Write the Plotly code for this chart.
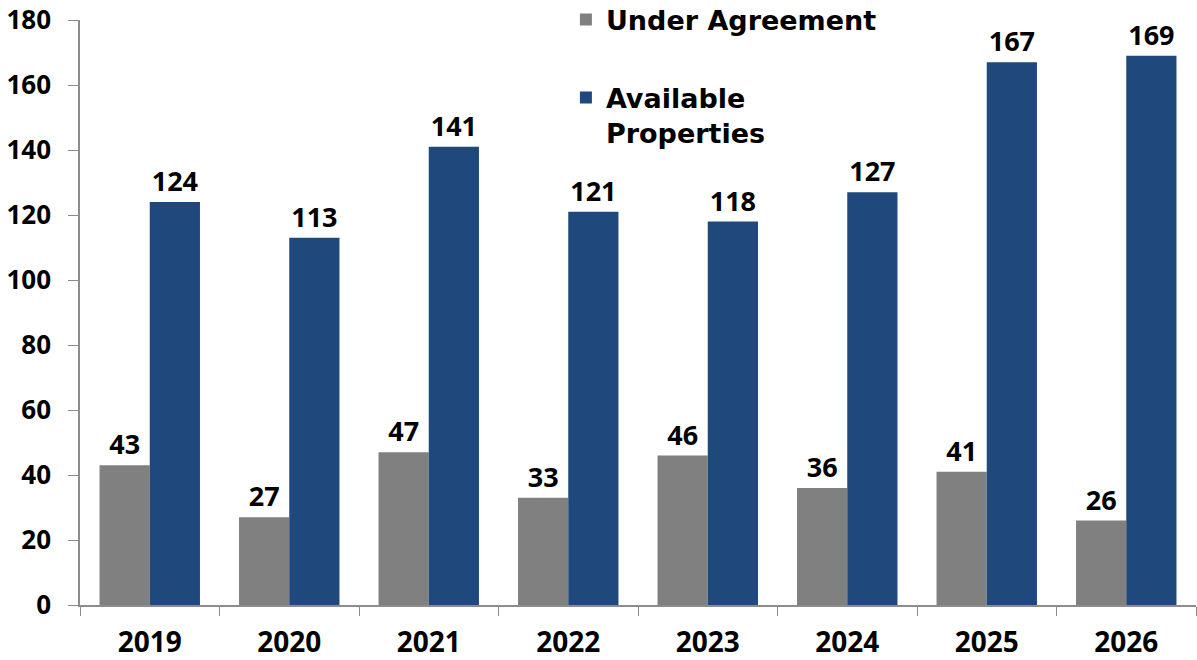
import plotly.graph_objects as go

years = ["2019", "2020", "2021", "2022", "2023", "2024", "2025", "2026"]
under_agreement = [43, 27, 47, 33, 46, 36, 41, 26]
available = [124, 113, 141, 121, 118, 127, 167, 169]

NUMFONT = "Open Sans"
LEGFONT = "DejaVu Sans"
fig = go.Figure()
fig.add_trace(go.Bar(
    x=years, y=under_agreement, name="Under Agreement",
    marker=dict(color="#808080", line=dict(width=0)),
    text=under_agreement, textposition="outside",
    textfont=dict(family=NUMFONT, size=27, color="black", weight="bold"),
    cliponaxis=False, legendgroup="a",
))
fig.add_trace(go.Bar(
    x=years, y=available, name="Available<br>Properties",
    marker=dict(color="#1F497D", line=dict(width=0)),
    text=available, textposition="outside",
    textfont=dict(family=NUMFONT, size=27, color="black", weight="bold"),
    cliponaxis=False, legendgroup="b",
))

fig.update_layout(
    width=1197, height=660,
    margin=dict(l=80, r=1, t=20, b=55, autoexpand=False),
    paper_bgcolor="white", plot_bgcolor="white",
    barmode="group", bargap=0.28, bargroupgap=0,
    font=dict(family=NUMFONT, size=27, color="black"),
    legend=dict(
        x=0.4354, y=1.042, xanchor="left", yanchor="top",
        bgcolor="rgba(0,0,0,0)", borderwidth=0, valign="top",
        font=dict(family=LEGFONT, size=27, color="black", weight="bold"),
        tracegroupgap=40, traceorder="grouped",
    ),
    xaxis=dict(
        showline=True, linecolor="#8c8c8c", linewidth=1.5,
        ticks="outside", tickson="boundaries", ticklen=9, tickcolor="#8c8c8c",
        tickfont=dict(family=NUMFONT, size=28, color="black", weight="bold"),
        ticklabelstandoff=12, automargin=False, ticklabeloverflow="allow",
        showgrid=False,
    ),
    yaxis=dict(
        range=[0, 180], dtick=20,
        showline=True, linecolor="#8c8c8c", linewidth=1.5,
        ticks="outside", ticklen=10, tickcolor="#8c8c8c",
        tickfont=dict(family=NUMFONT, size=26, color="black", weight="bold"),
        ticklabelstandoff=12, automargin=False, ticklabeloverflow="allow",
        showgrid=False, zeroline=False,
    ),
)

fig.write_html("out.html")
